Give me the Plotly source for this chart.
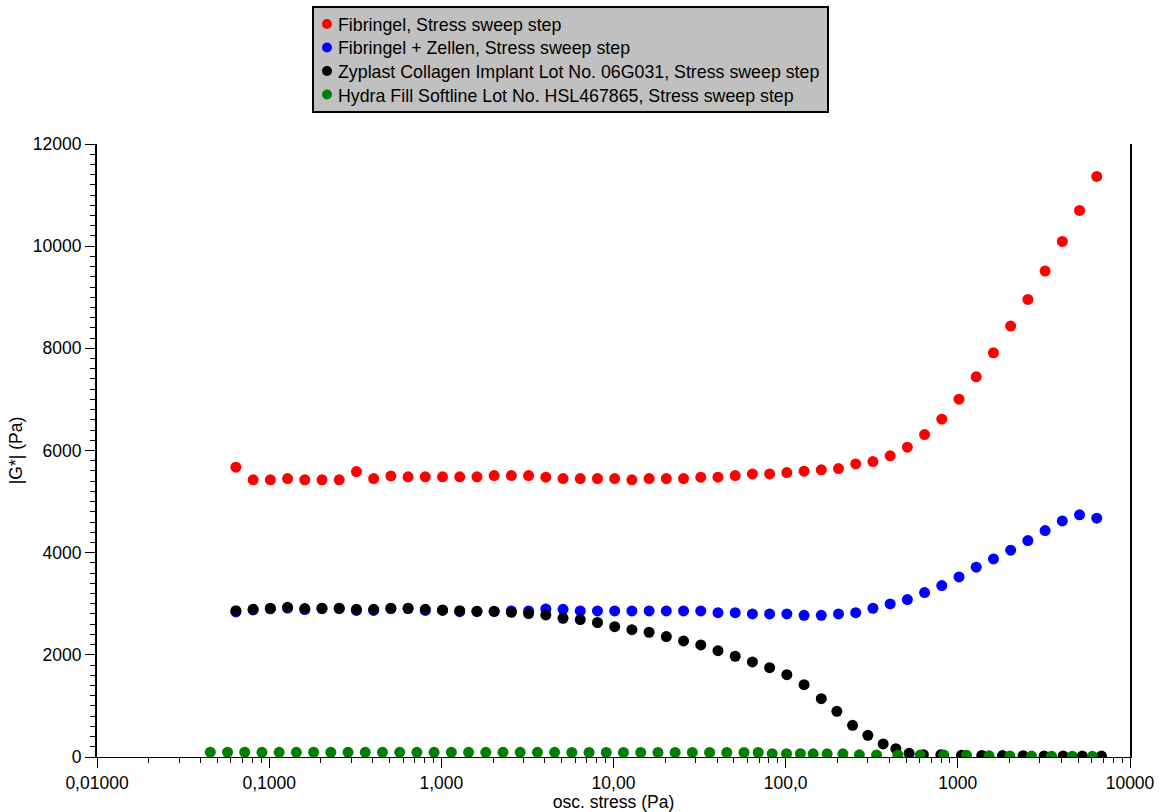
import plotly.graph_objects as go

# Oscillatory stress (Pa) and complex modulus |G*| (Pa) per sample
stress_fibringel = [0.0641, 0.0807, 0.1016, 0.1279, 0.1610, 0.2027, 0.2552, 0.3213, 0.4045, 0.5092,
                    0.641, 0.807, 1.016, 1.279, 1.610, 2.027, 2.552, 3.213, 4.045, 5.092,
                    6.41, 8.07, 10.16, 12.79, 16.10, 20.27, 25.52, 32.13, 40.45, 50.92,
                    64.1, 80.7, 101.6, 127.9, 161.0, 202.7, 255.2, 321.3, 404.5, 509.2,
                    641, 807, 1016, 1279, 1610, 2027, 2552, 3213, 4045, 5092, 6410]
g_fibringel = [5674, 5425, 5425, 5451, 5425, 5425, 5425, 5588, 5451, 5503,
               5484, 5484, 5484, 5484, 5484, 5510, 5510, 5510, 5477, 5451,
               5451, 5451, 5451, 5425, 5451, 5451, 5451, 5477, 5477, 5510,
               5542, 5542, 5568, 5595, 5621, 5646, 5738, 5784, 5895, 6065,
               6312, 6613, 7005, 7442, 7912, 8435, 8957, 9512, 10092, 10699, 11365]

stress_fibringel_cells = [0.0641, 0.0807, 0.1016, 0.1279, 0.1610, 0.2027, 0.2552, 0.3213, 0.4045, 0.5092,
                          0.641, 0.807, 1.016, 1.279, 1.610, 2.027, 2.552, 3.213, 4.045, 5.092,
                          6.41, 8.07, 10.16, 12.79, 16.10, 20.27, 25.52, 32.13, 40.45, 50.92,
                          64.1, 80.7, 101.6, 127.9, 161.0, 202.7, 255.2, 321.3, 404.5, 509.2,
                          641, 807, 1016, 1279, 1610, 2027, 2552, 3213, 4045, 5092, 6410]
g_fibringel_cells = [2840, 2880, 2900, 2915, 2885, 2905, 2905, 2870, 2870, 2905,
                     2905, 2870, 2870, 2845, 2850, 2850, 2859, 2859, 2899, 2892,
                     2859, 2859, 2859, 2859, 2859, 2859, 2859, 2859, 2826, 2826,
                     2800, 2800, 2800, 2774, 2774, 2800, 2826, 2912, 2996, 3081,
                     3218, 3355, 3525, 3715, 3878, 4048, 4236, 4432, 4622, 4740, 4675]

stress_zyplast = [0.0641, 0.0807, 0.1016, 0.1279, 0.1610, 0.2027, 0.2552, 0.3213, 0.4045, 0.5092,
                  0.641, 0.807, 1.016, 1.279, 1.610, 2.027, 2.552, 3.213, 4.045, 5.092,
                  6.41, 8.07, 10.16, 12.79, 16.10, 20.27, 25.52, 32.13, 40.45, 50.92,
                  64.1, 80.7, 101.6, 127.9, 161.0, 198.3, 244.7, 300.2, 368.4, 436.5,
                  521.5, 630.5, 796.9, 1051, 1378, 1818, 2394, 3171, 4088, 5284, 6830]
g_zyplast = [2865, 2892, 2912, 2931, 2905, 2912, 2912, 2892, 2892, 2912,
             2912, 2892, 2879, 2865, 2852, 2852, 2833, 2807, 2781, 2716,
             2690, 2633, 2552, 2493, 2442, 2357, 2272, 2193, 2082, 1972,
             1861, 1749, 1612, 1416, 1142, 895, 621, 425, 255, 163,
             72, 45, 45, 35, 30, 28, 25, 22, 20, 18, 18]

stress_hydrafill = [0.0455, 0.0573, 0.0721, 0.0908, 0.1143, 0.1439, 0.1812, 0.2281, 0.2871, 0.3615,
                    0.4550, 0.5728, 0.7211, 0.9078, 1.143, 1.439, 1.812, 2.281, 2.871, 3.615,
                    4.550, 5.728, 7.211, 9.078, 11.43, 14.39, 18.12, 22.81, 28.71, 36.15,
                    45.50, 57.28, 69.2, 83.5, 101.2, 121.7, 144.5, 174.2, 214.9, 267.9,
                    337.3, 448.3, 604.1, 829.5, 1123, 1520, 2005, 2679, 3501, 4622, 6041]
g_hydrafill = [95, 93, 93, 92, 92, 92, 93, 92, 92, 92,
               92, 92, 92, 92, 92, 92, 92, 92, 92, 92,
               92, 90, 90, 90, 90, 90, 90, 90, 90, 88,
               88, 88, 88, 65, 64, 64, 63, 63, 62, 42,
               40, 40, 38, 38, 36, 24, 20, 18, 16, 15, 14]

series_names = ["Fibringel, Stress sweep step",
                "Fibringel + Zellen, Stress sweep step",
                "Zyplast Collagen Implant Lot No. 06G031, Stress sweep step",
                "Hydra Fill Softline Lot No. HSL467865, Stress sweep step"]
series_colors = ["#ff0000", "#0000ff", "#000000", "#008000"]

x_tickvals = [0.01, 0.1, 1, 10, 100, 1000, 10000]
x_ticktext = ["0,01000", "0,1000", "1,000", "10,00", "100,0", "1000", "10000"]
x_minor = [m * 10 ** e for e in range(-2, 4) for m in range(2, 10)]

FONT = "Liberation Sans, Arial, sans-serif"
FS = 17.5
FS_LEGEND = 17.8

# Canvas geometry (px) used to place the legend box above the plot area
W, H = 1164, 812
ML, MR, MT, MB = 97, 34, 144, 55
PW, PH = W - ML - MR, H - MT - MB


def px_x(p):
    return (p - ML) / PW


def px_y(p):
    return (H - MB - p) / PH


fig = go.Figure()
for xs, ys, name, color in zip(
        [stress_fibringel, stress_fibringel_cells, stress_zyplast, stress_hydrafill],
        [g_fibringel, g_fibringel_cells, g_zyplast, g_hydrafill],
        series_names, series_colors):
    fig.add_trace(go.Scatter(x=xs, y=ys, mode="markers", name=name, showlegend=False,
                             marker=dict(color=color, size=11, line=dict(width=0))))

# Boxed legend: grey panel, coloured dot and label per series
shapes = [dict(type="rect", xref="paper", yref="paper", layer="above",
               x0=px_x(313), x1=px_x(828), y0=px_y(112), y1=px_y(7),
               fillcolor="#c0c0c0", line=dict(color="black", width=2))]
annotations = []
row_y = [24, 47.5, 71, 94.5]
for name, color, ry in zip(series_names, series_colors, row_y):
    shapes.append(dict(type="circle", xref="paper", yref="paper", layer="above",
                       xsizemode="pixel", ysizemode="pixel",
                       xanchor=px_x(327), yanchor=px_y(ry),
                       x0=-5, x1=5, y0=-5, y1=5,
                       fillcolor=color, line=dict(width=0)))
    annotations.append(dict(text=name, xref="paper", yref="paper",
                            x=px_x(336), y=px_y(ry + 1), xanchor="left", yanchor="middle",
                            showarrow=False,
                            font=dict(family=FONT, size=FS_LEGEND, color="black")))

fig.update_layout(
    width=W, height=H,
    margin=dict(l=ML, r=MR, t=MT, b=MB, autoexpand=False),
    paper_bgcolor="white", plot_bgcolor="white",
    font=dict(family=FONT, size=FS, color="black"),
    showlegend=False,
    shapes=shapes, annotations=annotations,
    xaxis=dict(type="log", range=[-2, 4], showgrid=False, zeroline=False,
               showline=True, linecolor="black", linewidth=1,
               tickmode="array", tickvals=x_tickvals, ticktext=x_ticktext,
               ticks="outside", ticklen=10, tickwidth=1, tickcolor="black",
               minor=dict(tickmode="array", tickvals=x_minor, ticks="outside",
                          ticklen=5, tickwidth=1, tickcolor="black"),
               tickfont=dict(size=FS),
               title=dict(text="osc. stress (Pa)", font=dict(size=FS), standoff=3),
               automargin=False),
    yaxis=dict(range=[0, 12000], showgrid=False, zeroline=False,
               showline=True, linecolor="black", linewidth=2, mirror=True,
               tickmode="linear", tick0=0, dtick=2000, tickformat="d",
               ticks="outside", ticklen=10, tickwidth=1, tickcolor="black",
               minor=dict(dtick=200, ticks="outside", ticklen=5,
                          tickwidth=1, tickcolor="black"),
               tickfont=dict(size=FS),
               title=dict(text="|G*| (Pa)", font=dict(size=FS), standoff=6),
               automargin=False),
)

fig.write_html("out.html")
